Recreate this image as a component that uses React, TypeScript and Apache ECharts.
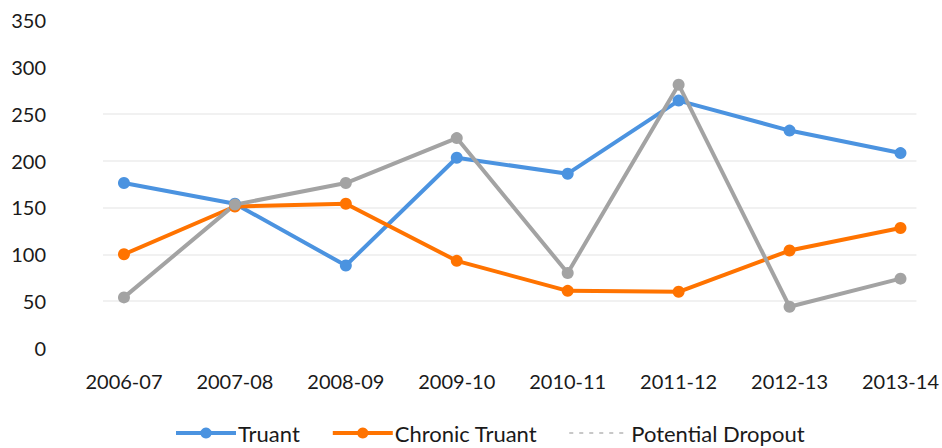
import React, { useEffect, useRef } from "react";
import * as echarts from "echarts";

const categories = ["2006-07", "2007-08", "2008-09", "2009-10", "2010-11", "2011-12", "2012-13", "2013-14"];
const truant = [176, 154, 88, 203, 186, 264, 232, 208];
const chronicTruant = [100, 151, 154, 93, 61, 60, 104, 128];
const potentialDropout = [54, 153, 176, 224, 80, 281, 44, 74];
const xTicks = [0, 1, 2, 3, 4, 5, 6, 7];

const FONT = "Lato, 'Open Sans', sans-serif";

export default function App() {
  const ref = useRef<HTMLDivElement>(null);
  useEffect(() => {
    document.body.style.margin = "0";
    const chart = echarts.init(ref.current!, null, { renderer: "svg" });
    const toPairs = (arr: number[]) => arr.map((v, i) => [i, v]);
    const mkSeries = (name: string, data: number[], color: string) => ({
      name,
      type: "line",
      data: toPairs(data),
      symbol: "circle",
      symbolSize: 12,
      lineStyle: { color, width: 4 },
      itemStyle: { color },
      z: 2,
    });
    chart.setOption({
      animation: false,
      backgroundColor: "#ffffff",
      textStyle: { fontFamily: FONT },
      grid: { left: 103, right: 25, top: 20, bottom: 100 },
      xAxis: {
        type: "value",
        min: -0.189,
        max: 7.144,
        axisLine: { show: false },
        axisTick: { show: false },
        splitLine: { show: false },
        axisLabel: {
          customValues: xTicks,
          formatter: (v: number) => categories[Math.round(v)] ?? "",
          color: "#1a1a1a",
          fontSize: 20,
          fontFamily: FONT,
          margin: 23,
        },
      },
      yAxis: {
        type: "value",
        min: 0,
        max: 350,
        interval: 50,
        axisLine: { show: false },
        axisTick: { show: false },
        axisLabel: { color: "#1a1a1a", fontSize: 20, fontFamily: FONT, margin: 57 },
        splitLine: {
          lineStyle: {
            color: ["transparent", "#ececec", "#ececec", "#ececec", "#ececec", "#ececec", "transparent", "transparent"],
            width: 1.5,
          },
        },
      },
      legend: {
        left: 169,
        top: 417,
        itemWidth: 60,
        itemHeight: 14,
        itemGap: 31,
        lineStyle: { width: 4 },
        textStyle: { color: "#1a1a1a", fontSize: 22, fontFamily: FONT, padding: [0, 0, 0, -3] },
        data: [
          { name: "Truant" },
          { name: "Chronic Truant" },
          {
            name: "Potential Dropout",
            lineStyle: { color: "#c8c8c8", type: [4, 6], width: 2 },
            itemStyle: { opacity: 0 },
          },
        ],
      },
      series: [
        mkSeries("Truant", truant, "#4b93e0"),
        mkSeries("Chronic Truant", chronicTruant, "#ff7300"),
        mkSeries("Potential Dropout", potentialDropout, "#a3a3a3"),
      ],
    });
    return () => chart.dispose();
  }, []);
  return <div ref={ref} style={{ width: 942, height: 448 }} />;
}
